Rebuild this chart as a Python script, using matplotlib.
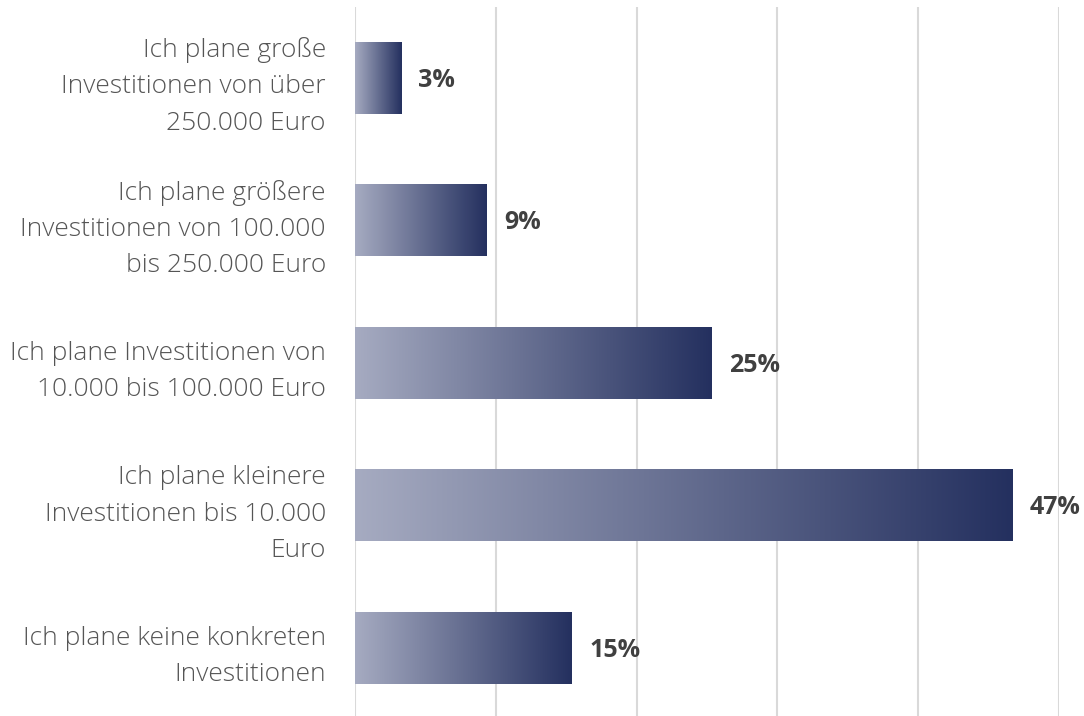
import numpy as np
import matplotlib
matplotlib.use("Agg")
import matplotlib.pyplot as plt
from matplotlib.colors import LinearSegmentedColormap

categories = [
    "Ich plane große\nInvestitionen von über\n250.000 Euro",
    "Ich plane größere\nInvestitionen von 100.000\nbis 250.000 Euro",
    "Ich plane Investitionen von\n10.000 bis 100.000 Euro",
    "Ich plane kleinere\nInvestitionen bis 10.000\nEuro",
    "Ich plane keine konkreten\nInvestitionen",
]
values = [3.27, 9.37, 25.3, 46.7, 15.4]
value_labels = ["3%", "9%", "25%", "47%", "15%"]

plt.rcParams['font.family'] = ['Open Sans', 'DejaVu Sans']

W, H = 1084, 716
fig = plt.figure(figsize=(W / 100, H / 100), dpi=100)
ax_left, ax_right, ax_top, ax_bottom = 355, 1059, 7, 716
ax = fig.add_axes([ax_left / W, 1 - ax_bottom / H, (ax_right - ax_left) / W, (ax_bottom - ax_top) / H])

cmap = LinearSegmentedColormap.from_list("g", ["#a6abc1", "#24305f"])
grad = np.linspace(0, 1, 256).reshape(1, -1)

bar_h = 0.505
ypos = np.arange(len(categories))
for y, v in zip(ypos, values):
    ax.imshow(grad, cmap=cmap, aspect="auto", extent=[0, v, y + bar_h / 2, y - bar_h / 2],
              interpolation="bicubic", zorder=3)

band = 142.5
top_i = (ax_top - 78) / band
bot_i = (ax_bottom - 78) / band
ax.set_xlim(0, 50)
ax.set_ylim(bot_i, top_i)

ax.set_xticks(np.arange(0, 51, 10))
ax.xaxis.grid(True, color="#d9d9d9", linewidth=1.5, zorder=0)
ax.tick_params(axis="x", bottom=False, labelbottom=False)
ax.set_yticks(ypos)
ax.set_yticklabels(categories, fontsize=19, color="#555555", linespacing=1.58, fontweight=300)
ax.tick_params(axis="y", left=False, length=0, pad=21)
for lab in ax.get_yticklabels():
    lab.set_horizontalalignment("right")
for s in ax.spines.values():
    s.set_visible(False)

for y, v, t in zip(ypos, values, value_labels):
    ax.annotate(t, xy=(v, y), xytext=(12.5, -1.5), textcoords="offset points",
                va="center", ha="left", fontsize=18, fontweight="bold", color="#404040",
                annotation_clip=False, zorder=4)

fig.savefig("out.png", dpi=100)
